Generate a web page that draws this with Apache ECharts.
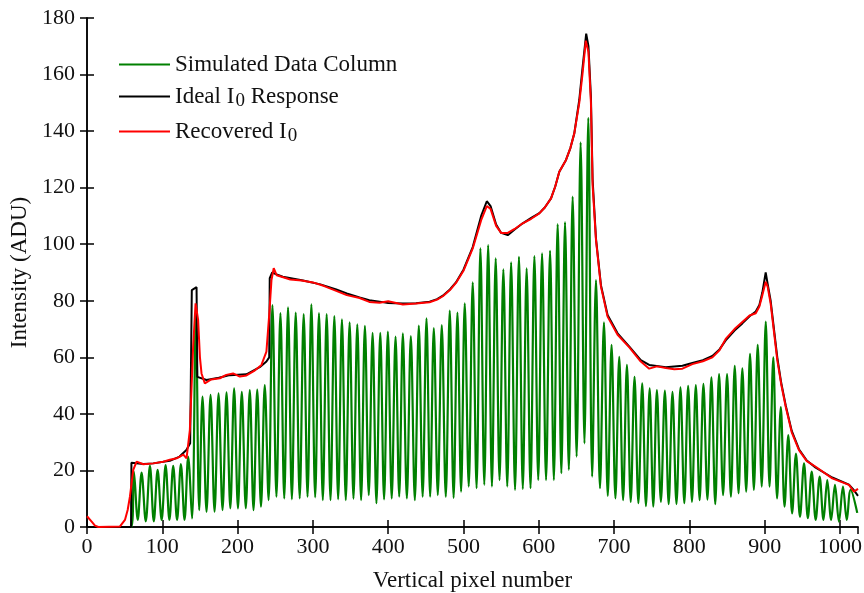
<!DOCTYPE html>
<html>
<head>
<meta charset="utf-8">
<script src="https://cdn.jsdelivr.net/npm/echarts@6/dist/echarts.min.js"></script>
<style>
  html, body { margin: 0; padding: 0; background: #fff; }
  #chart { width: 864px; height: 593px; }
</style>
</head>
<body>
<div id="chart"></div>
<script>
  // simulated data column: fringe peaks and troughs
  var peakX = [62.3, 72.5, 83.6, 93.8, 104.4, 114.5, 124.7, 134.4, 144.6, 153.4,
    164.1, 174.7, 185.3, 195.4, 205.6, 216.2, 226.1, 236.1, 246.3, 256.9,
    267.0, 277.2, 287.8, 298.0, 308.1, 318.3, 328.5, 338.6, 348.8, 359.0,
    369.1, 379.3, 389.5, 399.6, 409.8, 419.5, 430.1, 440.7, 450.9, 460.6,
    471.2, 481.8, 492.0, 501.7, 512.3, 522.5, 532.8, 542.8, 553.0, 563.3,
    573.7, 583.9, 594.2, 604.4, 615.0, 625.1, 634.9, 645.0, 655.6, 665.8,
    676.0, 686.6, 696.7, 706.9, 717.1, 727.2, 737.4, 747.3, 756.9, 767.5,
    777.6, 788.2, 798.4, 808.6, 818.7, 829.3, 839.5, 850.1, 860.3, 870.4,
    880.6, 890.8, 901.5, 911.5, 921.5, 931.4, 941.6, 952.3, 962.5, 973.1,
    983.2, 993.4, 1004.0, 1014.2];
  var peakY = [19.6, 19.2, 21.6, 20.2, 21.9, 21.6, 22.2, 24.9, 75.0, 46.1,
    46.7, 47.3, 47.6, 49.0, 47.8, 48.4, 48.6, 50.2, 78.5, 75.6,
    77.7, 75.8, 75.3, 78.7, 75.6, 75.3, 74.6, 73.4, 72.4, 71.7,
    71.1, 68.7, 68.7, 69.1, 67.3, 68.5, 67.5, 71.2, 73.8, 70.3,
    71.4, 76.5, 75.8, 79.1, 86.5, 98.5, 99.7, 95.0, 91.1, 93.6,
    95.5, 91.5, 95.8, 96.8, 97.7, 107.1, 107.8, 116.8, 136.0, 144.7,
    87.3, 72.4, 64.4, 60.2, 57.3, 53.1, 50.8, 49.0, 48.4, 48.2,
    47.8, 49.4, 49.9, 50.2, 50.6, 52.9, 54.1, 54.1, 57.0, 56.1,
    61.2, 64.4, 72.6, 60.0, 42.4, 32.5, 26.0, 22.5, 19.6, 17.8,
    16.6, 14.9, 14.3, 13.1];
  var troughY = [2.5, 2.0, 2.0, 2.5, 2.5, 2.5, 2.5, 3.0, 6.0, 5.4,
    5.4, 6.0, 6.6, 6.6, 6.6, 6.0, 7.2, 9.5, 10.7, 10.1,
    9.8, 10.1, 10.7, 10.5, 9.5, 9.5, 9.8, 9.5, 10.0, 9.5,
    11.3, 8.4, 9.8, 10.1, 10.7, 10.1, 9.5, 10.7, 10.7, 11.3,
    10.7, 10.3, 12.5, 14.3, 13.7, 14.9, 14.3, 16.6, 14.3, 13.1,
    13.4, 13.7, 16.6, 16.6, 16.6, 19.0, 20.2, 24.9, 29.6, 17.8,
    13.7, 11.0, 10.1, 9.5, 8.9, 8.4, 7.4, 7.2, 8.9, 8.1,
    8.1, 8.4, 8.9, 9.5, 9.7, 8.1, 11.3, 10.7, 11.9, 12.5,
    13.1, 14.3, 14.3, 10.1, 7.2, 4.8, 3.6, 3.1, 2.5, 2.5,
    2.5, 1.9, 2.5];
  var greenStart = [[0, 0], [58.8, 0]];
  var greenEnd = [[1023, 5]];

  // ideal I0 response
  var idealX = [0, 58.5, 59, 75, 88, 110, 123, 132, 137, 139, 139.2, 145.5, 146.3, 146.5, 158.7, 175,
    189.7, 211.8, 229.4, 238.3, 242, 242.7, 246, 250, 260, 287, 310, 331, 345, 362, 375, 388.6, 400, 419.5,
    437, 455, 465, 472.6, 482, 490, 500, 512.3, 523.5, 531, 536, 543.4, 550, 558.8, 568, 578.7, 590, 600.8,
    608, 616.3, 622, 627.3, 636.2, 642, 647.2, 653.8, 658, 663, 666, 669.3, 671.5, 676, 682.6, 691.4,
    704.7, 720.3, 735.5, 746.7, 768.8, 790.8, 804, 818, 830.6, 840, 848.3, 860, 870.4, 880, 888.2, 893, 897,
    901.4, 904, 908, 916.8, 922, 928, 936, 945.6, 956, 967.8, 989.8, 1012, 1018.6, 1024];
  var idealY = [0, 0, 22.7, 22.3, 22.5, 23.4, 24.9, 27.2, 29.6, 30, 83.8, 84.8, 84.8, 53.1, 52, 52.8,
    53.7, 54, 56.5, 58.5, 60, 88, 90, 89.5, 88.5, 87.2, 85.8, 84, 82.6, 81.2, 80.2, 79.7, 79.2, 79,
    79.1, 79.7, 80.6, 81.8, 84, 86.5, 91, 99, 110, 115.2, 113.5, 107, 104, 103.2, 105.2, 107.4, 109.3, 111,
    113, 116.2, 120.5, 125.6, 129.8, 134, 139.2, 151, 162, 174.5, 170, 152, 123, 102, 85.5, 75,
    68.5, 63.8, 59, 57.3, 56.5, 57, 58, 59, 60.5, 62.8, 66, 69.5, 72, 74.5, 76.2, 78.5, 83,
    90, 86, 80, 60, 51, 43, 34, 27.5, 23.5, 21, 17.5, 15, 13, 11];

  // recovered I0
  var recX = [0, 2, 6.2, 10.6, 15, 43.8, 50.4, 54, 57, 61.4, 65.9, 74.7, 88, 101.2, 110, 119, 128,
    132.2, 136.6, 141, 144.2, 147.6, 150, 152.1, 156.5, 165, 176.4, 185, 194, 203, 211.8, 222, 231.7,
    238.3, 242, 245, 248, 252, 270, 285, 300, 315, 331, 345, 362, 375, 388.6, 400, 419.5, 437, 455,
    465, 472.6, 482, 490, 500, 512.3, 523.5, 531, 536, 543.4, 550, 558.8, 568, 578.7, 590, 600.8,
    608, 616.3, 622, 627.3, 636.2, 642, 647.2, 653.8, 658, 662.5, 666, 669.3, 671.5, 676, 682.6, 691.4,
    704.7, 720.3, 735.5, 746.7, 757, 768.8, 780, 790.8, 804, 818, 830.6, 840, 848.3, 860, 870.4, 880,
    888.2, 893, 897, 901.4, 904, 908, 916.8, 922, 928, 936, 945.6, 956, 967.8, 989.8, 1012, 1018.6, 1024];
  var recY = [3.8, 3.5, 1.9, 0.5, 0, 0.2, 2.5, 6, 10.7, 20.2, 23.1, 22.2, 22.5, 23.1, 23.8, 24.3, 25.6,
    24.3, 34.3, 63.8, 79.1, 73.2, 60, 54.3, 50.8, 52.2, 52.6, 53.8, 54.3, 53.2, 53.6, 55.2, 57.3,
    62, 75, 87.3, 91.5, 89, 87.5, 87.2, 86.5, 85.2, 83.5, 82, 81, 79.6, 79.3, 79.8, 78.7, 79, 79.5,
    80.4, 81.6, 83.8, 86.3, 90.6, 98.5, 108.5, 113.5, 112.5, 106.5, 104, 104, 105.4, 107.4, 109, 110.9,
    113, 116.2, 120.5, 125.6, 129.8, 134, 139.2, 150, 160, 172, 168, 150, 121, 101.5, 85, 74.4,
    68, 63.5, 58.5, 56, 56.8, 56.2, 55.8, 56, 57.6, 58.6, 60, 62.5, 66.5, 70, 72.5, 74.8,
    75.6, 78, 82, 86.7, 85, 79, 59, 50.5, 42.5, 33.5, 27.2, 23.3, 21.3, 17.2, 14.9, 12.5, 13.5];

  var xTicks = { min: 0, max: 1024, interval: 100 };
  var yTicks = { min: 0, max: 180, interval: 20 };

  function buildGreen() {
    var pts = greenStart.slice();
    for (var i = 0; i < peakX.length; i++) {
      pts.push([peakX[i], peakY[i]]);
      if (i < troughY.length) {
        pts.push([(peakX[i] + peakX[i + 1]) / 2, troughY[i]]);
      }
    }
    return pts.concat(greenEnd);
  }

  function pairs(xs, ys) {
    return xs.map(function (x, i) { return [x, ys[i]]; });
  }

  var font = 'Liberation Serif';
  var chart = echarts.init(document.getElementById('chart'));
  var axisLine = { show: true, lineStyle: { color: '#000', width: 1.5 } };
  var inTick = { show: true, inside: true, length: 7, lineStyle: { color: '#000', width: 1.5 } };

  var option = {
    animation: false,
    grid: { left: 87, right: 6, top: 18, bottom: 66, outerBoundsMode: 'none' },
    legend: {
      orient: 'vertical',
      left: 114,
      top: 48,
      icon: 'rect',
      itemWidth: 51,
      itemHeight: 2,
      itemGap: 6,
      textStyle: {
        fontFamily: font, fontSize: 23, color: '#111', lineHeight: 22,
        rich: {
          sub: { fontFamily: font, fontSize: 19, lineHeight: 22, padding: [10, 0, 0, 1], color: '#111' }
        }
      },
      formatter: function (name) {
        if (name === 'Ideal I0 Response') return 'Ideal I{sub|0} Response';
        if (name === 'Recovered I0') return 'Recovered I{sub|0}';
        return name;
      },
      data: ['Simulated Data Column', 'Ideal I0 Response', 'Recovered I0']
    },
    xAxis: [{
      type: 'value',
      min: xTicks.min, max: xTicks.max, interval: xTicks.interval,
      name: 'Vertical pixel number',
      nameLocation: 'middle',
      nameGap: 42,
      nameTextStyle: { fontFamily: font, fontSize: 23, color: '#111' },
      axisLine: axisLine, axisTick: inTick,
      axisLabel: {
        fontFamily: font, fontSize: 22, color: '#111', margin: 9, showMaxLabel: false,
        formatter: function (v) { return String(v); }
      },
      splitLine: { show: false }
    }, {
      type: 'value', position: 'top',
      min: xTicks.min, max: xTicks.max, interval: xTicks.interval,
      axisLine: axisLine, axisTick: inTick,
      axisLabel: { show: false }, splitLine: { show: false }
    }],
    yAxis: [{
      type: 'value',
      min: yTicks.min, max: yTicks.max, interval: yTicks.interval,
      name: 'Intensity (ADU)',
      nameLocation: 'middle',
      nameGap: 54,
      nameTextStyle: { fontFamily: font, fontSize: 23, color: '#111' },
      axisLine: axisLine, axisTick: inTick,
      axisLabel: { fontFamily: font, fontSize: 22, color: '#111', margin: 12 },
      splitLine: { show: false }
    }, {
      type: 'value', position: 'right',
      min: yTicks.min, max: yTicks.max, interval: yTicks.interval,
      axisLine: axisLine, axisTick: inTick,
      axisLabel: { show: false }, splitLine: { show: false }
    }],
    series: [{
      name: 'Simulated Data Column',
      type: 'line',
      symbol: 'none',
      smooth: 0.35,
      color: '#008000',
      lineStyle: { color: '#008000', width: 2.2 },
      data: buildGreen()
    }, {
      name: 'Ideal I0 Response',
      type: 'line',
      symbol: 'none',
      color: '#000',
      lineStyle: { color: '#000', width: 2 },
      data: pairs(idealX, idealY)
    }, {
      name: 'Recovered I0',
      type: 'line',
      symbol: 'none',
      color: '#ff0000',
      lineStyle: { color: '#ff0000', width: 2 },
      data: pairs(recX, recY)
    }]
  };
  chart.setOption(option);
</script>
</body>
</html>
